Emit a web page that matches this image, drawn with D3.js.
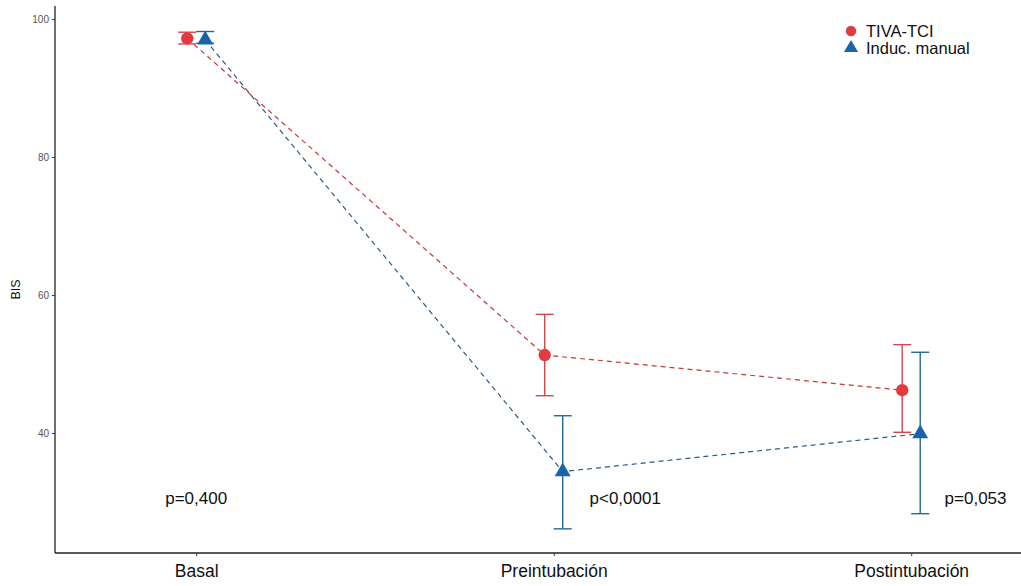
<!DOCTYPE html>
<html>
<head>
<meta charset="utf-8">
<script src="https://cdn.jsdelivr.net/npm/d3@7"></script>
<style>
  body { margin: 0; background: #fff; }
  svg { display: block; font-family: "Liberation Sans", Arial, sans-serif; }
</style>
</head>
<body>
<div id="vis-container"></div>
<script>
// categories and series
const moments = ["Basal", "Preintubación", "Postintubación"];
const groups = ["TIVA-TCI", "Induc. manual"];

const tciMean = [97.2, 51.3, 46.2];
const tciLow = [96.4, 45.4, 40.1];
const tciHigh = [98.1, 57.2, 52.8];

const manMean = [97.0, 34.4, 39.9];
const manLow = [96.5, 26.1, 28.3];
const manHigh = [98.2, 42.5, 51.7];

const pLabels = ["p=0,400", "p<0,0001", "p=0,053"];
const pPos = [0, 1.2, 2.18]; // in category units
const pY = 30.5;

const yTicks = [40, 60, 80, 100];

const colors = {
  "TIVA-TCI": { point: "#e23b3f", bar: "#d5474c", line: "#c23a3c" },
  "Induc. manual": { point: "#1863aa", bar: "#24688e", line: "#2b5b85" }
};

const series = [
  { name: groups[0], shape: "circle", offset: -1, mean: tciMean, low: tciLow, high: tciHigh },
  { name: groups[1], shape: "triangle", offset: 1, mean: manMean, low: manLow, high: manHigh }
];

drawChart();

function drawChart() {
  const W = 1021, H = 586;
  const margin = { top: 6, right: 0, bottom: 33, left: 55 };
  const width = W - margin.left - margin.right;
  const height = H - margin.top - margin.bottom;

  const svg = d3.select("#vis-container")
    .append("svg")
    .attr("width", W)
    .attr("height", H);

  const g = svg.append("g")
    .attr("transform", `translate(${margin.left},${margin.top})`);

  // x: category index mapped linearly
  const x = d3.scaleLinear()
    .domain([-0.395, 2.395])
    .range([0, 2.79 * 357.5]);

  const y = d3.scaleLinear()
    .domain([22.6, 101.9])
    .range([height, 0]);

  const dodge = 9;

  // y axis
  const yAxis = g.append("g")
    .call(d3.axisLeft(y).tickValues(yTicks).tickSize(3).tickSizeOuter(0));
  yAxis.select(".domain").attr("stroke", "#222").attr("stroke-width", 1.3)
    .attr("d", `M0,0V${height}`);
  yAxis.selectAll(".tick line").attr("stroke", "#333");
  yAxis.selectAll(".tick text")
    .attr("fill", "#555")
    .style("font-size", "10px");

  // x axis
  const xAxis = g.append("g")
    .attr("transform", `translate(0,${height})`)
    .call(d3.axisBottom(x).tickValues([0, 1, 2]).tickFormat(i => moments[i]).tickSize(3).tickSizeOuter(0));
  xAxis.select(".domain").attr("stroke", "#222").attr("stroke-width", 1.3)
    .attr("d", `M0,0H${width}`);
  xAxis.selectAll(".tick line").attr("stroke", "#333");
  xAxis.selectAll(".tick text")
    .attr("fill", "#111")
    .attr("dy", "1.0em")
    .style("font-size", "17.5px");

  // y title
  svg.append("text")
    .attr("transform", `translate(20,${margin.top + height / 2 + 10}) rotate(-90)`)
    .attr("text-anchor", "middle")
    .style("font-size", "12.5px")
    .attr("fill", "#111")
    .text("BIS");

  // dashed connecting lines
  series.forEach(s => {
    const line = d3.line()
      .x((d, i) => x(i) + s.offset * dodge)
      .y(d => y(d));
    g.append("path")
      .datum(s.mean)
      .attr("fill", "none")
      .attr("stroke", colors[s.name].line)
      .attr("stroke-width", 1.2)
      .attr("stroke-dasharray", "5,4")
      .attr("d", line);
  });

  // error bars
  series.forEach(s => {
    const c = colors[s.name].bar;
    const eb = g.append("g");
    s.mean.forEach((m, i) => {
      const cx = x(i) + s.offset * dodge;
      eb.append("line")
        .attr("x1", cx).attr("x2", cx)
        .attr("y1", y(s.low[i])).attr("y2", y(s.high[i]))
        .attr("stroke", c).attr("stroke-width", 1.4);
      [s.low[i], s.high[i]].forEach(v => {
        eb.append("line")
          .attr("x1", cx - 9).attr("x2", cx + 9)
          .attr("y1", y(v)).attr("y2", y(v))
          .attr("stroke", c).attr("stroke-width", 1.4);
      });
    });
  });

  // points
  const circleSym = d3.symbol().type(d3.symbolCircle).size(120);
  const triSym = d3.symbol().type(d3.symbolTriangle).size(110);
  series.forEach(s => {
    g.selectAll(null)
      .data(s.mean)
      .join("path")
      .attr("transform", (d, i) => `translate(${x(i) + s.offset * dodge},${y(d)})`)
      .attr("d", s.shape === "circle" ? circleSym : triSym)
      .attr("fill", colors[s.name].point);
  });

  // p-value labels
  g.selectAll(".plab")
    .data(pLabels)
    .join("text")
    .attr("class", "plab")
    .attr("x", (d, i) => x(pPos[i]))
    .attr("y", y(pY))
    .attr("dy", "0.35em")
    .attr("text-anchor", "middle")
    .style("font-size", "17px")
    .attr("fill", "#111")
    .text(d => d);

  // legend
  const legend = svg.append("g").attr("transform", "translate(851,31)");
  const legCircle = d3.symbol().type(d3.symbolCircle).size(85);
  const legTri = d3.symbol().type(d3.symbolTriangle).size(85);
  series.forEach((s, i) => {
    const row = legend.append("g").attr("transform", `translate(0,${i * 17})`);
    row.append("path")
      .attr("d", s.shape === "circle" ? legCircle : legTri)
      .attr("fill", colors[s.name].point);
    row.append("text")
      .attr("x", 15)
      .attr("dy", "0.35em")
      .style("font-size", "16.5px")
      .attr("fill", "#111")
      .text(s.name);
  });
}
</script>
</body>
</html>
